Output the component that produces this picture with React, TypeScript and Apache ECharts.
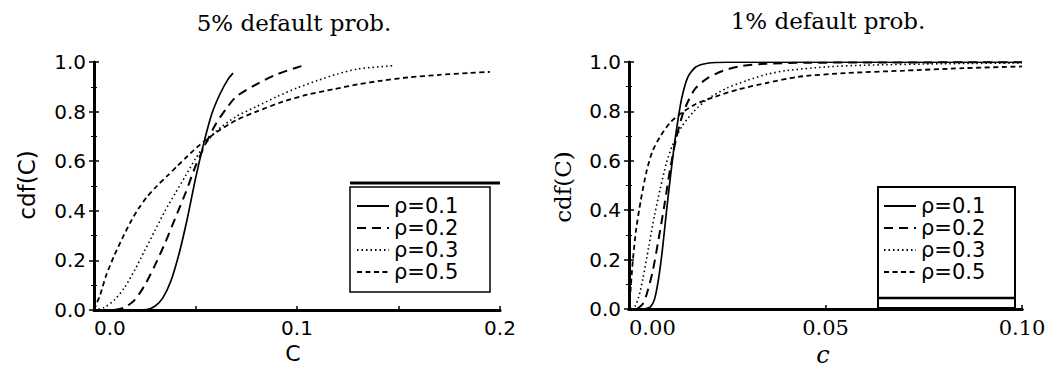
import React, { useEffect, useRef } from "react";
import * as echarts from "echarts";

// ---- Data ----
const seriesNames = ["ρ=0.1", "ρ=0.2", "ρ=0.3", "ρ=0.5"];

// 5% default probability panel: [C, cdf(C)]
const left01: [number, number][] = [
  [0.015, 0], [0.026, 0.002], [0.03, 0.015], [0.034, 0.05], [0.038, 0.12], [0.042, 0.23],
  [0.046, 0.37], [0.05, 0.53], [0.054, 0.67], [0.058, 0.79], [0.062, 0.87], [0.066, 0.93],
  [0.0685, 0.955],
];
const left02: [number, number][] = [
  [0.01, 0], [0.015, 0.01], [0.02, 0.04], [0.025, 0.1], [0.03, 0.18], [0.035, 0.27],
  [0.04, 0.37], [0.045, 0.47], [0.05, 0.58], [0.055, 0.67], [0.06, 0.75], [0.065, 0.81],
  [0.07, 0.86], [0.08, 0.91], [0.09, 0.95], [0.1, 0.978], [0.105, 0.99],
];
const left03: [number, number][] = [
  [0.0, 0.0], [0.005, 0.01], [0.01, 0.04], [0.015, 0.09], [0.02, 0.16], [0.025, 0.24],
  [0.03, 0.32], [0.035, 0.4], [0.04, 0.47], [0.045, 0.54], [0.05, 0.61], [0.055, 0.67],
  [0.06, 0.72], [0.07, 0.78], [0.08, 0.82], [0.09, 0.86], [0.1, 0.895], [0.11, 0.925],
  [0.12, 0.952], [0.13, 0.972], [0.147, 0.985],
];
const left05: [number, number][] = [
  [0.0, 0.0], [0.0015, 0.03], [0.003, 0.06], [0.006, 0.14], [0.01, 0.22], [0.014, 0.29],
  [0.018, 0.355], [0.022, 0.41], [0.026, 0.455], [0.031, 0.5], [0.036, 0.54], [0.041, 0.58],
  [0.046, 0.62], [0.052, 0.665], [0.06, 0.715], [0.07, 0.765], [0.08, 0.8], [0.093, 0.84],
  [0.105, 0.868], [0.118, 0.89], [0.13, 0.91], [0.142, 0.925], [0.155, 0.938], [0.17, 0.948],
  [0.185, 0.956], [0.195, 0.96],
];

// 1% default probability panel: [C, cdf(C)]
const right01: [number, number][] = [
  [0.004, 0], [0.0055, 0.01], [0.0065, 0.04], [0.0075, 0.12], [0.0085, 0.24], [0.0095, 0.39],
  [0.0105, 0.53], [0.0115, 0.66], [0.0125, 0.77], [0.0135, 0.86], [0.015, 0.94], [0.017, 0.98],
  [0.02, 0.995], [0.025, 0.999], [0.1, 0.999],
];
const right02: [number, number][] = [
  [0.002, 0], [0.0035, 0.02], [0.0045, 0.06], [0.006, 0.15], [0.0075, 0.28], [0.009, 0.42],
  [0.0105, 0.57], [0.012, 0.69], [0.0135, 0.78], [0.015, 0.84], [0.017, 0.895], [0.02, 0.935],
  [0.024, 0.965], [0.029, 0.985], [0.035, 0.993], [0.045, 0.997], [0.1, 0.999],
];
const right03: [number, number][] = [
  [0.0005, 0], [0.0015, 0.01], [0.0025, 0.05], [0.0035, 0.12], [0.005, 0.25], [0.0065, 0.38],
  [0.008, 0.49], [0.0095, 0.59], [0.011, 0.66], [0.0135, 0.74], [0.0165, 0.8], [0.02, 0.85],
  [0.025, 0.895], [0.03, 0.925], [0.035, 0.95], [0.04, 0.965], [0.05, 0.98], [0.06, 0.987],
  [0.08, 0.993], [0.1, 0.996],
];
const right05: [number, number][] = [
  [0.0, 0.0], [0.0002, 0.03], [0.0005, 0.1], [0.001, 0.2], [0.0018, 0.32], [0.003, 0.44],
  [0.0045, 0.56], [0.006, 0.64], [0.008, 0.7], [0.0105, 0.755], [0.0135, 0.795], [0.017, 0.83],
  [0.022, 0.86], [0.028, 0.89], [0.035, 0.915], [0.043, 0.94], [0.055, 0.955], [0.07, 0.965],
  [0.085, 0.975], [0.1, 0.982],
];

const leftData = [left01, left02, left03, left05];
const rightData = [right01, right02, right03, right05];

const SANS = "DejaVu Sans";
const SERIF = "DejaVu Serif";

const lineStyles = [
  { type: "solid", width: 1.7 },
  { type: [9, 6], width: 2 },
  { type: [1.5, 3], width: 1.6 },
  { type: [5, 3.5], width: 1.8 },
];

function buildOption() {
  const yBase = (font: string) => ({
    type: "value",
    min: 0,
    max: 1,
    interval: 0.2,
    axisLine: { show: true, lineStyle: { color: "#000", width: 3 } },
    axisTick: { show: true, inside: true, length: 5, lineStyle: { color: "#000", width: 1.5 } },
    minorTick: { show: true, splitNumber: 2, length: 3, lineStyle: { color: "#000" } },
    splitLine: { show: false },
    axisLabel: {
      show: true,
      margin: 8,
      color: "#000",
      fontFamily: font,
      fontSize: 20,
      formatter: (v: number) => v.toFixed(1),
    },
  });
  const frameY = (grid: number) => ({
    type: "value",
    gridIndex: grid,
    position: "right",
    min: 0,
    max: 1,
    interval: 0.2,
    axisLine: { show: true, lineStyle: { color: "#000", width: 2 } },
    axisTick: { show: true, inside: true, length: 5, lineStyle: { color: "#000", width: 1.5 } },
    minorTick: { show: true, splitNumber: 2, length: 3, lineStyle: { color: "#000" } },
    splitLine: { show: false },
    axisLabel: { show: false },
  });
  const frameX = (grid: number, max: number, interval: number) => ({
    type: "value",
    gridIndex: grid,
    position: "top",
    min: 0,
    max,
    interval,
    axisLine: { show: true, lineStyle: { color: "#000", width: 3 } },
    axisTick: { show: false },
    splitLine: { show: false },
    axisLabel: { show: false },
  });

  const makeSeries = (d: [number, number][], i: number, xi: number, yi: number) => ({
    type: "line",
    name: seriesNames[i],
    xAxisIndex: xi,
    yAxisIndex: yi,
    data: d,
    showSymbol: false,
    symbol: "none",
    smooth: 0.25,
    lineStyle: { color: "#000", ...lineStyles[i] },
    itemStyle: { color: "#000" },
    z: 3,
  });

  const series: any[] = [
    ...leftData.map((d, i) => makeSeries(d, i, 0, 0)),
    ...rightData.map((d, i) => makeSeries(d, i, 2, 2)),
  ];

  const legendBase = {
    orient: "vertical",
    itemWidth: 32,
    itemHeight: 12,
    itemGap: 0,
    padding: 0,
    selectedMode: false,
    itemStyle: { opacity: 0 },
    textStyle: { color: "#000", fontFamily: SANS, fontSize: 21, lineHeight: 22 },
    data: seriesNames,
    z: 10,
  };

  return {
    animation: false,
    backgroundColor: "#fff",
    grid: [
      { left: 94, right: 550, top: 62, bottom: 60 },
      { left: 629, right: 28, top: 62, bottom: 61 },
    ],
    xAxis: [
      {
        type: "value",
        gridIndex: 0,
        min: 0,
        max: 0.2,
        interval: 0.1,
        axisLine: { show: true, lineStyle: { color: "#000", width: 2.5 } },
        axisTick: { show: true, inside: true, length: 4, lineStyle: { color: "#000", width: 1.5 } },
        minorTick: { show: true, splitNumber: 2, length: 4, lineStyle: { color: "#000", width: 1.5 } },
        splitLine: { show: false },
        axisLabel: {
          color: "#000",
          fontFamily: SANS,
          fontSize: 20,
          margin: 8,
          alignMinLabel: "left",
          formatter: (v: number) => v.toFixed(1),
        },
      },
      frameX(0, 0.2, 0.1),
      {
        type: "value",
        gridIndex: 1,
        min: 0,
        max: 0.1,
        interval: 0.05,
        axisLine: { show: true, lineStyle: { color: "#000", width: 3 } },
        axisTick: { show: true, inside: true, length: 4, lineStyle: { color: "#000", width: 1.5 } },
        splitLine: { show: false },
        axisLabel: {
          color: "#000",
          fontFamily: SERIF,
          fontSize: 21,
          margin: 8,
          alignMinLabel: "left",
          formatter: (v: number) => v.toFixed(2),
        },
      },
      frameX(1, 0.1, 0.05),
    ],
    yAxis: [
      { ...yBase(SANS), gridIndex: 0 },
      frameY(0),
      { ...yBase(SANS), gridIndex: 1 },
      frameY(1),
    ],
    legend: [
      { ...legendBase, left: 356, top: 195 },
      { ...legendBase, left: 883, top: 195 },
    ],
    graphic: [
      {
        type: "text",
        x: 294,
        y: 23,
        style: { text: "5% default prob.", font: `23px "${SERIF}"`, fill: "#000", textAlign: "center", textVerticalAlign: "middle" },
      },
      {
        type: "text",
        x: 828,
        y: 21,
        style: { text: "1% default prob.", font: `23px "${SERIF}"`, fill: "#000", textAlign: "center", textVerticalAlign: "middle" },
      },
      {
        type: "text",
        x: 27,
        y: 185,
        rotation: Math.PI / 2,
        style: { text: "cdf(C)", font: `23px "${SANS}"`, fill: "#000", textAlign: "center", textVerticalAlign: "middle" },
      },
      {
        type: "text",
        x: 563,
        y: 187,
        rotation: Math.PI / 2,
        style: { text: "cdf(C)", font: `23px "${SERIF}"`, fill: "#000", textAlign: "center", textVerticalAlign: "middle" },
      },
      {
        type: "text",
        x: 293,
        y: 353,
        style: { text: "C", font: `22px "${SANS}"`, fill: "#000", textAlign: "center", textVerticalAlign: "middle" },
      },
      {
        type: "text",
        x: 823,
        y: 355,
        style: { text: "c", font: `italic 24px "${SERIF}"`, fill: "#000", textAlign: "center", textVerticalAlign: "middle" },
      },
      // legend frames
      {
        type: "rect",
        shape: { x: 350, y: 187, width: 140, height: 105 },
        style: { fill: "#fff", stroke: "#000", lineWidth: 1.5 },
        z: 5,
      },
      {
        type: "line",
        shape: { x1: 350, y1: 183, x2: 500, y2: 183 },
        style: { stroke: "#000", lineWidth: 3 },
        z: 5,
      },
      {
        type: "rect",
        shape: { x: 878, y: 187, width: 137, height: 121 },
        style: { fill: "#fff", stroke: "#000", lineWidth: 2 },
        z: 5,
      },
      {
        type: "line",
        shape: { x1: 878, y1: 298, x2: 1015, y2: 298 },
        style: { stroke: "#000", lineWidth: 2.5 },
        z: 5,
      },
    ],
    series,
  };
}

export default function App() {
  const ref = useRef<HTMLDivElement>(null);
  useEffect(() => {
    if (!ref.current) return;
    const chart = echarts.init(ref.current, undefined, { renderer: "svg" });
    chart.setOption(buildOption() as any);
    return () => chart.dispose();
  }, []);
  return (
    <div
      ref={ref}
      style={{ position: "absolute", left: 0, top: 0, width: 1050, height: 370, background: "#fff" }}
    />
  );
}
